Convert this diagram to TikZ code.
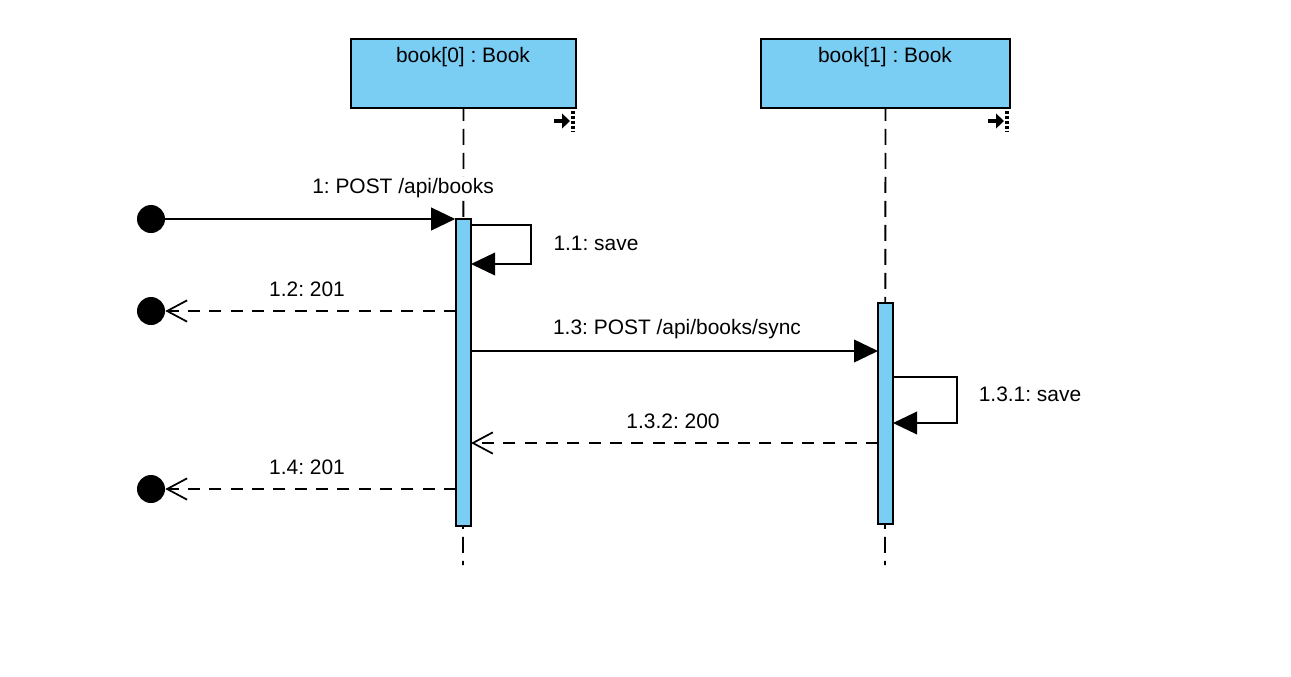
\documentclass[tikz,border=0pt]{standalone}
\usepackage{fontspec}
\setmainfont{Liberation Sans}
\usetikzlibrary{arrows.meta,fit}
\definecolor{objblue}{HTML}{7ACEF4}
\frenchspacing
\begin{document}
\begin{tikzpicture}[x=0.75pt,y=-0.75pt,
  font=\fontsize{15.7}{19}\selectfont,
  objbox/.style={draw=black,fill=objblue,line width=1.2pt,inner sep=0pt},
  actbar/.style={draw=black,fill=objblue,line width=1.2pt,inner sep=0pt},
  lifeline/.style={draw=black,line width=1.4pt,dash pattern=on 12pt off 6pt,dash phase=3pt},
  endpt/.style={circle,fill=black,inner sep=0pt,minimum size=21pt},
  callmsg/.style={draw=black,line width=1.3pt,-{Triangle[length=18pt,width=17pt]}},
  retmsg/.style={draw=black,line width=1.3pt,dash pattern=on 9pt off 7pt,-{Straight Barb[length=15pt,width=16pt,line width=1.3pt]}},
  selfmsg/.style={draw=black,line width=1.1pt,-{Triangle[length=18pt,width=17pt]}},
  msglabel/.style={inner sep=1pt,fill=white},
  objlabel/.style={inner sep=0pt},
  iconarrow/.style={draw=black,line width=3pt,-{Triangle[length=6pt,width=11pt]}},
  iconbar/.style={draw=black,line width=2.4pt,dash pattern=on 2.5pt off 1.2pt}
]
\useasboundingbox (0,0) rectangle (1291,676);
% objects
\node[objbox,fit={(351,39)(576,108)}] (b0) {};
\node[objbox,fit={(761,39)(1010,108)}] (b1) {};
\node[objlabel] (t0) at (463,57) {book[0] : Book};
\node[objlabel] (t1) at (885,57) {book[1] : Book};
% icons
\coordinate (i0a) at (554,121); \coordinate (i0b) at (570,121);
\draw[iconarrow] (i0a) -- (i0b);
\coordinate (i0c) at (573,111); \coordinate (i0d) at (573,131);
\draw[iconbar] (i0c) -- (i0d);
\coordinate (i1a) at (988,121); \coordinate (i1b) at (1004,121);
\draw[iconarrow] (i1a) -- (i1b);
\coordinate (i1c) at (1007,111); \coordinate (i1d) at (1007,131);
\draw[iconbar] (i1c) -- (i1d);
% lifelines
\coordinate (l0end) at (463,565);
\coordinate (l1end) at (885,565);
\draw[lifeline] (b0.south) -- (l0end);
\draw[lifeline] (b1.south) -- (l1end);
% activations
\node[actbar,fit={(456,219)(471,526)}] (a0) {};
\node[actbar,fit={(878,303)(893,524)}] (a1) {};
% endpoints
\node[endpt] (e1) at (151,219) {};
\node[endpt] (e2) at (151,311) {};
\node[endpt] (e3) at (151,489) {};
% message 1
\draw[callmsg] (e1.east) -- (a0.west |- e1.east);
\node[msglabel] (m1) at (403,188) {1: POST /api/books};
% 1.1 self
\coordinate (s1a) at (471,225);
\coordinate (s1b) at (531,225);
\coordinate (s1c) at (531,264);
\coordinate (s1d) at (471,264);
\draw[selfmsg] (s1a) -- (s1b) -- (s1c) -- (s1d);
\node[msglabel] (m11) at (596,243) {1.1: save};
% 1.2 return
\coordinate (r12) at (456,311);
\draw[retmsg] (r12) -- (e2.east);
\node[msglabel] (m12) at (307,289) {1.2: 201};
% 1.3
\coordinate (c13a) at (471,351);
\coordinate (c13b) at (878,351);
\draw[callmsg] (c13a) -- (c13b);
\node[msglabel] (m13) at (677,329) {1.3: POST /api/books/sync};
% 1.3.1 self
\coordinate (s2a) at (893,377);
\coordinate (s2b) at (957,377);
\coordinate (s2c) at (957,423);
\coordinate (s2d) at (893,423);
\draw[selfmsg] (s2a) -- (s2b) -- (s2c) -- (s2d);
\node[msglabel] (m131) at (1030,394) {1.3.1: save};
% 1.3.2 return
\coordinate (r132a) at (878,443);
\coordinate (r132b) at (471,443);
\draw[retmsg] (r132a) -- (r132b);
\node[msglabel] (m132) at (673,421) {1.3.2: 200};
% 1.4 return
\coordinate (r14) at (456,489);
\draw[retmsg] (r14) -- (e3.east);
\node[msglabel] (m14) at (307,467) {1.4: 201};
\end{tikzpicture}
\end{document}
